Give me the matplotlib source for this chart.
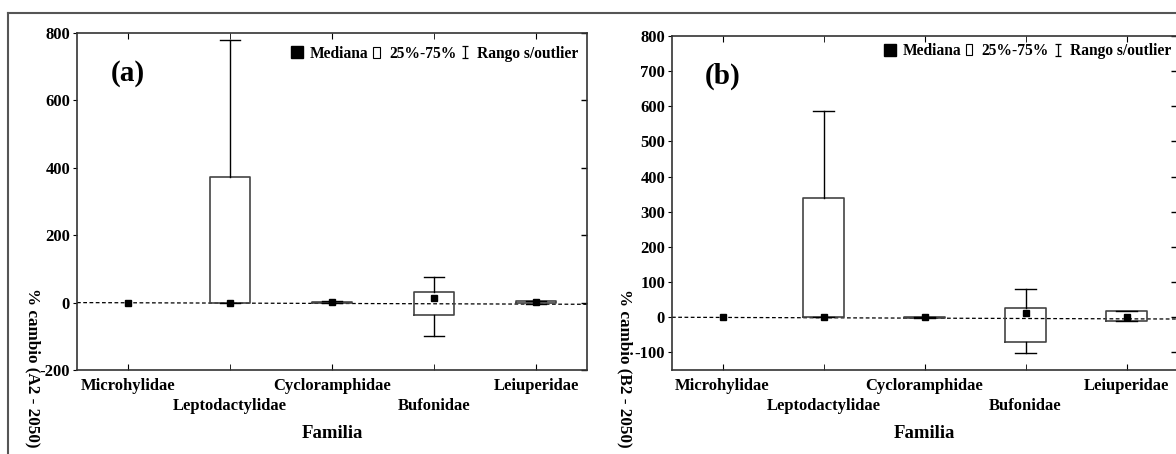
import matplotlib
matplotlib.use("Agg")
import matplotlib.pyplot as plt
from matplotlib.lines import Line2D
from matplotlib.patches import Rectangle
from matplotlib.path import Path

plt.rcParams['font.family'] = ['Liberation Serif', 'DejaVu Serif']
plt.rcParams['font.weight'] = 'bold'

# === Datos ===
familias = ["Microhylidae", "Leptodactylidae", "Cycloramphidae", "Bufonidae", "Leiuperidae"]
pos = [1, 2, 3, 4, 5]

# escenario A2 - 2050
a_med = [0, 0, 2, 13, 3]
a_q1 = [None, 0, -1, -36, -2]
a_q3 = [None, 372, 3, 32, 5]
a_lo = [None, 0, -2, -99, -3]
a_hi = [None, 778, 4, 75, 6]

# escenario B2 - 2050
b_med = [0, 0, 1, 11, 1]
b_q1 = [None, 0, -1, -69, -11]
b_q3 = [None, 340, 1, 27, 17]
b_lo = [None, 0, -1, -102, -11]
b_hi = [None, 587, 2, 79, 17]

ref_line = [0, -5]  # linea punteada (extremos izq/der)

W, H = 1176, 454
fig = plt.figure(figsize=(W / 100, H / 100), dpi=100)

# marco exterior
fig.add_artist(Line2D([8 / W, 1], [1 - 13 / H, 1 - 13 / H], color="#555555", lw=1.5))
fig.add_artist(Line2D([8 / W, 8 / W], [0, 1 - 13 / H], color="#555555", lw=1.5))

# simbolo "I" del rango
IBEAM = Path([(-0.5, 1), (0.5, 1), (0, 1), (0, -1), (-0.5, -1), (0.5, -1)],
             [Path.MOVETO, Path.LINETO, Path.MOVETO, Path.LINETO, Path.MOVETO, Path.LINETO])


def px(l, t, r, b):
    return [l / W, 1 - b / H, (r - l) / W, (b - t) / H]


def panel(rect, med, q1, q3, lo, hi, ylim, yticks, letter, ylabel, ylab_x, leg_x, leg_y):
    ax = fig.add_axes(px(*rect))
    stats, spos = [], []
    for i in range(len(pos)):
        if q1[i] is None:
            continue
        stats.append(dict(med=med[i], q1=q1[i], q3=q3[i], whislo=lo[i], whishi=hi[i], fliers=[]))
        spos.append(pos[i])
    ax.bxp(stats, positions=spos, widths=0.4, capwidths=0.2, showfliers=False,
           boxprops=dict(color="#444444", lw=1.2),
           whiskerprops=dict(color="black", lw=1),
           capprops=dict(color="black", lw=1),
           medianprops=dict(visible=False), manage_ticks=False)
    ax.plot(pos, med, ls="none", marker="s", color="black", markersize=5, zorder=5)
    ax.plot([0.5, 5.5], ref_line, ls=(0, (3, 2)), color="black", lw=0.9, zorder=1)

    ax.set_xlim(0.5, 5.5)
    ax.set_ylim(*ylim)
    ax.set_yticks(yticks)
    ax.set_yticklabels([str(v) for v in yticks], fontsize=12, fontweight="bold")
    # etiquetas alternadas: impares arriba, pares abajo
    ax.set_xticks(pos[0::2])
    ax.set_xticklabels(familias[0::2], fontsize=12, fontweight="bold")
    ax.set_xticks(pos[1::2], minor=True)
    ax.set_xticklabels(familias[1::2], minor=True, fontsize=12, fontweight="bold")
    ax.tick_params(axis="x", which="major", direction="in", length=4, top=True, pad=6)
    ax.tick_params(axis="x", which="minor", direction="in", length=4, top=True, pad=20)
    ax.tick_params(axis="y", direction="out", length=3, pad=2)
    for s in ax.spines.values():
        s.set_linewidth(1.2)
        s.set_color("#333333")
    # marcas internas del lado derecho
    for v in yticks:
        ax.plot([1], [v], marker=0, markersize=4, color="black",
                transform=ax.get_yaxis_transform(), clip_on=False)

    ax.text(0.1, 0.88, letter, transform=ax.transAxes, fontsize=21, fontweight="bold",
            ha="center", va="center")

    handles = [Line2D([], [], ls="none", marker="s", color="black", markersize=8),
               Rectangle((0, 0), 1, 1, fc="white", ec="black", lw=0.8),
               Line2D([], [], ls="none", marker=IBEAM, color="black", markersize=9,
                      markeredgewidth=0.9)]
    ax.legend(handles, ["Mediana", "25%-75%", "Rango s/outlier"], ncol=3, frameon=False,
              loc="upper left", bbox_to_anchor=(leg_x, leg_y), borderpad=0, borderaxespad=0,
              handlelength=0.4, handletextpad=0.6, columnspacing=0.35,
              prop=dict(family="Liberation Serif", weight="bold", size=11.2))

    fig.text((rect[0] + rect[2]) / 2 / W, 1 - 434 / H, "Familia",
             fontsize=13.5, fontweight="bold", ha="center", va="center")
    fig.text(ylab_x / W, 1 - 368 / H, ylabel, rotation=270, fontsize=12.3, fontweight="bold",
             ha="center", va="center")
    return ax


axa = panel((77, 33, 587, 370), a_med, a_q1, a_q3, a_lo, a_hi, (-200, 800),
            [-200, 0, 200, 400, 600, 800], "(a)", "% cambio (A2 - 2050)", 33, 0.425, 0.962)
axb = panel((672, 36, 1177, 370), b_med, b_q1, b_q3, b_lo, b_hi, (-150, 800),
            [-100, 0, 100, 200, 300, 400, 500, 600, 700, 800], "(b)", "% cambio (B2 - 2050)",
            625, 0.425, 0.978)

fig.savefig("out.png", dpi=100)
